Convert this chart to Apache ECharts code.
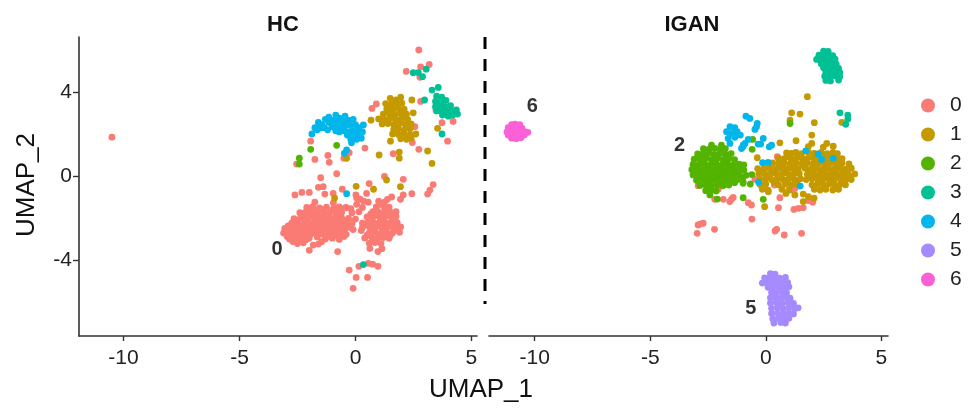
<!DOCTYPE html>
<html><head><meta charset="utf-8">
<style>html,body{margin:0;padding:0;background:#fff}#c{width:975px;height:411px}</style>
<script src="https://cdn.jsdelivr.net/npm/echarts@6/dist/echarts.min.js"></script>
</head><body><div id="c"></div>
<script>
const clusters = ['0','1','2','3','4','5','6'];
const colors = ['#FA7B73','#C49A00','#53B400','#00C094','#00B6EB','#A58AFF','#FB61D7'];
const xTicks = [-10,-5,0,5];
const yTicks = [-4,0,4];

const hc0 = [[-10.5,1.85],[2.73,6.0],[2.81,5.2],[3.18,5.31],[2.19,4.98],[2.78,4.7],[0.9,3.43],[0.71,3.22],[2.81,3.55],[3.73,2.54],[4.21,2.6],[3.97,1.66],[-1.93,1.66],[-1.75,0.79],[-1.19,0.98],[-1.13,0.65],[-0.5,0.85],[-0.27,1.11],[0.41,1.33],[1.63,1.06],[2.45,1.59],[2.73,1.27],[2.56,2.35],[2.09,2.79],[-2.54,0.57],[3.47,3.14],
[-1.5,-0.08],[-0.81,0.11],[1.25,-0.02],[2.06,-0.16],[0.59,-0.36],[3.35,-0.41],[3.21,-0.67],[3.11,-0.86],[2.43,-0.84],[2.06,-0.9],[1.94,-1.11],[1.56,-1],[1.38,-1.11],[0.48,-0.83],[-2.61,-0.9],[-2.31,-0.78],[-1.99,-0.78],[-1.6,-0.54],[-1.39,-0.51],[-1.32,-0.86],[-0.96,-0.83],[-0.57,-0.63],[0.02,-0.9],
[-1.99,-3.54],[-0.77,-3.6],[0.62,-3.45],[0.97,-3.6],[1.14,-3.46],[0.15,-4.3],[0.55,-4.16],[0.74,-4.2],[0.97,-4.3],[-0.27,-4.48],[0.03,-4.83],[0.52,-4.83],[-0.1,-5.35],[-1.6,-3.24],[-1.82,-3.29],[-1.46,-3.13],
[-1.75,-1.25],[-0.95,-1.28],[-2.1,-1.5],[-1.85,-1.46],[-1.55,-1.52],[-1.25,-1.48],[-0.95,-1.55],[-0.7,-1.47],[-0.45,-1.52],
[-2.4,-1.75],[-2.15,-1.72],[-1.9,-1.78],[-1.65,-1.73],[-1.35,-1.77],[-1.1,-1.72],[-0.85,-1.78],[-0.6,-1.74],
[-2.65,-2.03],[-2.35,-1.97],[-2.1,-2.02],[-1.6,-2.0],[-1.35,-2.03],[-1.1,-1.98],[-0.85,-2.03],[-0.6,-1.98],[-0.3,-2.02],
[-2.75,-2.25],[-2.5,-2.22],[-2.2,-2.28],[-1.95,-2.23],[-1.7,-2.26],[-1.45,-2.22],[-1.2,-2.28],[-0.95,-2.24],[-0.7,-2.27],[-0.45,-2.23],[-0.15,-2.26],
[-3.05,-2.5],[-2.8,-2.47],[-2.55,-2.52],[-2.3,-2.48],[-2.05,-2.53],[-1.75,-2.48],[-1.5,-2.52],[-1.25,-2.47],[-1.0,-2.52],[-0.75,-2.48],[-0.45,-2.53],[-0.2,-2.47],
[-3.1,-2.72],[-2.85,-2.77],[-2.6,-2.72],[-2.35,-2.77],[-2.1,-2.73],[-1.45,-2.76],[-1.15,-2.72],[-0.9,-2.77],[-0.6,-2.73],[-0.4,-2.78],
[-2.85,-3.0],[-2.55,-2.97],[-2.3,-3.02],[-2.0,-2.97],[-1.3,-3.0],[-1.0,-2.96],[-0.7,-3.02],[-2.5,-3.22],[-2.25,-3.18],
[1.0,-1.2],[1.25,-1.24],[0.9,-1.47],[1.2,-1.43],[1.45,-1.48],[0.75,-1.7],[1.0,-1.73],[1.25,-1.68],[1.5,-1.72],[1.75,-1.7],
[0.5,-1.95],[0.8,-1.92],[1.05,-1.97],[1.3,-1.93],[1.55,-1.97],[1.75,-1.93],[0.55,-2.2],[0.8,-2.23],[1.05,-2.18],[1.3,-2.22],[1.55,-2.18],[1.8,-2.22],
[0.3,-2.45],[0.6,-2.42],[0.85,-2.47],[1.1,-2.43],[1.35,-2.47],[1.6,-2.43],[1.85,-2.47],[1.95,-2.42],[0.6,-2.7],[0.85,-2.67],[1.1,-2.72],[1.35,-2.68],[1.6,-2.72],[1.9,-2.68],
[0.4,-2.95],[0.7,-2.92],[0.95,-2.97],[1.2,-2.93],[1.45,-2.97],[0.6,-3.2],[0.85,-3.17],[1.1,-3.22],
[-0.4,-1.5],[-0.2,-1.55],[0.05,-1.35],[0.15,-1.7],[0.35,-1.2],[0.0,-2.05],[-0.2,-2.15],[-0.1,-2.55],[0.25,-2.6],[0.3,-2.25],[0.05,-1.05],[0.2,-1.1],[0.55,-1.25],[-0.15,-1.75],[0.3,-1.5],
[-1.9,-1.6],[-1.4,-1.6],[-1.0,-1.65],[-0.75,-1.6],[-2.25,-1.85],[-1.75,-1.9],[-1.2,-1.88],[-0.7,-1.88],[-2.5,-2.1],[-2.2,-2.12],[-1.5,-2.12],[-1.0,-2.12],[-0.5,-2.12],[-2.9,-2.38],[-2.35,-2.38],[-1.85,-2.38],[-1.3,-2.38],[-0.85,-2.38],[-0.3,-2.38],[-2.95,-2.62],[-2.45,-2.62],[-1.95,-2.62],[-1.35,-2.62],[-0.85,-2.62],[-2.7,-2.88],[-2.2,-2.88],[-1.2,-2.88],[-0.75,-2.88],
[1.1,-1.35],[0.9,-1.6],[1.35,-1.6],[0.65,-1.82],[1.15,-1.82],[1.6,-1.82],[0.7,-2.08],[1.15,-2.08],[1.65,-2.08],[0.45,-2.32],[0.95,-2.32],[1.45,-2.32],[1.7,-2.32],[0.75,-2.58],[1.25,-2.58],[1.75,-2.58],[0.5,-2.82],[1.0,-2.82],[1.5,-2.82],[0.8,-3.05],
[-1.6,-1.6],[-2.05,-1.62],[-1.5,-1.9],[-1.95,-1.92],[-2.05,-2.15],[-1.75,-2.12],[-1.25,-2.12],[-0.75,-2.12],[-2.6,-2.35],[-2.05,-2.38],[-1.55,-2.38],[-1.05,-2.38],[-0.55,-2.38],[-2.7,-2.6],[-2.2,-2.62],[-1.65,-2.62],[-1.1,-2.62],[-0.6,-2.62],[-2.95,-2.88],[-2.45,-2.88],[-1.0,-2.85],[-0.5,-2.88],[-1.75,-2.72],[-1.95,-2.8],[-1.65,-2.9],[-2.15,-3.05],[-2.7,-3.12]];
const hc1 = [[2.43,3.62],[2.49,3.01],[0.67,2.66],[1.51,1.66],[1.02,1.0],[1.89,1.14],[1.89,0.85],[3.11,1.19],[3.3,0.6],[3.54,2.27],[-0.38,0.84],[-0.9,-1.05],[0.03,-0.49],[0.78,-0.63],[1.34,-0.19],[1.94,-0.51],
[1.5,3.7],[1.75,3.62],[1.95,3.75],[1.3,3.45],[1.55,3.42],[1.8,3.4],[2.0,3.47],[1.35,3.2],[1.6,3.18],[1.85,3.22],[2.1,3.18],[1.2,2.95],[1.45,2.98],[1.7,2.93],[1.95,2.97],[2.2,2.95],
[1.0,2.72],[1.25,2.7],[1.5,2.74],[1.75,2.68],[2.0,2.72],[2.25,2.7],[1.15,2.48],[1.4,2.5],[1.65,2.45],[1.9,2.5],[2.15,2.46],[2.4,2.48],[1.65,2.22],[1.85,2.25],[2.1,2.2],[2.35,2.25],
[1.6,2.0],[1.85,1.98],[2.1,2.02],[2.35,1.97],[2.6,2.0],[1.95,1.77],[2.2,1.75],[2.4,1.8]];
const hc2 = [[-2.42,0.85],[-2.42,0.57],[-1.93,1.27],[-0.81,1.46]];
const hc3 = [[3.3,4.09],[3.57,4.22],[2.98,3.62],[3.73,2.0],[2.49,4.92],[2.71,4.92],[2.89,4.73],[3.05,5.09],[0.34,-4.22],
[3.5,3.8],[3.72,3.75],[3.45,3.55],[3.7,3.55],[3.9,3.6],[3.45,3.3],[3.65,3.35],[3.88,3.3],[4.1,3.35],[3.5,3.1],[3.7,3.1],[3.95,3.05],[4.15,3.1],[4.35,3.15],[3.75,2.9],[4.0,2.85],[4.2,2.9],[4.4,2.95]];
const hc4 = [[-1.88,2.0],[-1.75,2.3],[-1.6,2.55],[-1.65,2.2],[-1.45,2.45],[-1.3,2.7],[-1.35,2.3],[-1.15,2.55],[-1.15,2.8],[-1.0,2.35],[-0.95,2.65],[-0.85,2.9],[-0.75,2.5],[-0.7,2.75],[-0.6,2.3],[-0.55,2.6],[-0.45,2.85],[-0.4,2.4],[-0.3,2.65],[-0.25,2.1],[-0.2,2.4],[-0.1,2.7],[-0.05,2.15],[0,2.45],[0.1,2.0],[0.15,2.3],[0.3,2.1],[0.25,1.8],[0.05,1.75],[-0.15,1.9],[-0.17,1.58],[0.34,2.43],[-0.38,1.24],[-0.48,1.08],[-0.38,-0.84],
[-0.5,2.15],[-0.35,1.95],[-0.05,1.9],[-1.5,2.3],[-1.2,2.2],[-0.85,2.15],[-0.7,2.1],[-1.05,2.5],[-0.8,2.3],[-0.5,2.3],[0.2,1.95],[-0.2,1.75],[0.1,2.2]];
const ig0 = [[-3.07,0.08],[-2.93,-0.46],[-1.34,-0.22],[-0.98,-0.27],[-0.47,-0.16],[-2.06,-0.63],[-2.21,-1.11],[-1.84,-1.11],[-1.56,-1.22],[-1.41,-1.02],[-1.48,-1.1],[-0.76,-1.27],[-0.62,-1.38],[0.37,-0.43],[0.61,-1.03],[0.55,-1.51],[1.12,-0.67],[1.26,-0.59],[1.91,0.16],[1.22,-1.59],[1.41,-1.54],[1.62,-1.51],[1.84,-1.17],[2.03,-1.25],[-0.6,-2.05],[-2.93,-2.33],[-2.71,-2.25],[-2.83,-2.29],[-2.97,-2.73],[-2.22,-2.54],[0.47,-2.54],[0.4,-2.62],[0.8,-2.81],[1.55,-2.73],[0.5,0.92]];
const ig1 = [[1.8,3.78],[1.12,3.01],[1.48,2.95],[1.05,2.66],[2.1,2.54],[3.29,2.55],[1.99,1.95],[1.31,1.68],[0.61,1.58],[-0.37,0.87],
[2.64,1.55],[2.92,1.42],[1.99,1.55],[1.84,1.4],[2.49,1.38],[0.9,1.1],[1.1,1.08],[1.3,1.12],[1.55,1.07],[1.85,1.12],[2.1,1.08],[2.4,1.12],[2.65,1.07],[2.9,1.12],[3.1,1.07],
[0.55,0.85],[0.8,0.83],[1.05,0.87],[1.3,0.82],[1.55,0.87],[1.8,0.83],[2.05,0.87],[2.3,0.83],[2.55,0.87],[2.8,0.83],[3.05,0.87],[3.3,0.83],
[0.0,0.6],[0.3,0.62],[0.55,0.58],[0.8,0.62],[1.05,0.58],[1.3,0.62],[1.55,0.58],[1.8,0.62],[2.05,0.58],[2.3,0.62],[2.55,0.58],[2.8,0.62],[3.05,0.58],[3.3,0.62],[3.6,0.58],
[-0.35,0.35],[-0.1,0.33],[0.15,0.37],[0.4,0.33],[0.65,0.37],[0.9,0.33],[1.15,0.37],[1.4,0.33],[1.7,0.37],[1.95,0.33],[2.2,0.37],[2.45,0.33],[2.7,0.37],[2.95,0.33],[3.2,0.37],[3.45,0.33],[3.7,0.37],
[-0.3,0.1],[-0.05,0.12],[0.2,0.08],[0.45,0.12],[0.7,0.08],[0.95,0.12],[1.2,0.08],[1.45,0.12],[1.8,0.08],[2.05,0.12],[2.3,0.08],[2.55,0.12],[2.8,0.08],[3.05,0.12],[3.3,0.08],[3.55,0.12],[3.85,0.1],
[-0.25,-0.15],[0,-0.13],[0.25,-0.17],[0.5,-0.13],[0.75,-0.17],[1.0,-0.13],[1.25,-0.17],[1.5,-0.13],[1.75,-0.17],[2.0,-0.13],[2.25,-0.17],[2.5,-0.13],[2.75,-0.17],[3.0,-0.13],[3.25,-0.17],[3.5,-0.13],[3.7,-0.17],
[-0.25,-0.4],[0,-0.38],[0.55,-0.42],[0.85,-0.38],[1.1,-0.42],[1.3,-0.38],[2.0,-0.42],[2.25,-0.38],[2.5,-0.42],[2.75,-0.38],[3.0,-0.42],[3.25,-0.38],[3.45,-0.42],
[-0.15,-0.63],[0.1,-0.67],[0.7,-0.63],[1.0,-0.67],[2.1,-0.63],[2.35,-0.67],[2.6,-0.63],[2.9,-0.67],[3.15,-0.63],
[-0.11,-0.59],[0.11,-0.75],[0.87,-0.83],[1.26,-0.9],[1.62,-0.86],[1.84,-0.98],[2.09,-1.06],[1.62,-1.22],[-0.05,-1.46],
[0.2,0.48],[0.7,0.48],[1.2,0.48],[1.65,0.48],[2.15,0.48],[2.65,0.48],[3.2,0.48],[-0.2,0.22],[0.3,0.22],[0.8,0.22],[1.3,0.22],[1.9,0.22],[2.4,0.22],[2.9,0.22],[3.4,0.22],[0.1,-0.02],[0.6,-0.02],[1.1,-0.02],[2.15,-0.02],[2.65,-0.02],[3.15,-0.02],[3.65,-0.02],[0.35,-0.28],[0.85,-0.28],[1.35,-0.28],[2.35,-0.28],[2.85,-0.28],[3.35,-0.28],[0.7,0.72],[1.2,0.72],[1.7,0.72],[2.2,0.72],[2.7,0.72],[3.2,0.72],[1.0,0.97],[1.45,0.97],[2.25,0.97],[2.75,0.97]];
const ig2 = [[-2.35,1.47],[-1.92,1.47],[-2.7,1.3],[-2.45,1.28],[-2.2,1.32],[-1.95,1.28],[-1.75,1.3],
[-2.95,1.05],[-2.75,1.03],[-2.5,1.07],[-2.25,1.03],[-2.0,1.07],[-1.75,1.03],[-1.5,1.07],
[-3.1,0.8],[-2.85,0.78],[-2.6,0.82],[-2.35,0.78],[-2.1,0.82],[-1.85,0.78],[-1.6,0.82],[-1.35,0.78],
[-3.15,0.55],[-2.9,0.53],[-2.65,0.57],[-2.4,0.53],[-2.15,0.57],[-1.9,0.53],[-1.65,0.57],[-1.4,0.53],[-1.15,0.57],[-0.95,0.53],
[-3.2,0.3],[-2.95,0.28],[-2.7,0.32],[-2.45,0.28],[-2.2,0.32],[-1.95,0.28],[-1.7,0.32],[-1.45,0.28],[-1.2,0.32],[-0.95,0.28],
[-3.15,0.05],[-2.9,0.03],[-2.65,0.07],[-2.4,0.03],[-2.15,0.07],[-1.9,0.03],[-1.65,0.07],[-1.4,0.03],[-1.15,0.07],[-0.85,0.03],[-0.6,0.07],
[-3.0,-0.2],[-2.75,-0.18],[-2.5,-0.22],[-2.25,-0.18],[-2.0,-0.22],[-1.75,-0.18],[-1.5,-0.22],[-1.25,-0.18],[-1.0,-0.22],
[-2.85,-0.45],[-2.6,-0.43],[-2.35,-0.47],[-2.1,-0.43],[-1.85,-0.47],[-1.6,-0.43],[-2.6,-0.7],[-2.35,-0.68],[-2.15,-0.72],[-2.42,-0.9],
[-2.1,-1.1],[-0.98,-1.03],[-0.67,-0.38],[-0.11,-1.11],[-0.57,1.74],[-0.98,1.4],[-0.59,1.27],[1.05,2.5],[-0.98,-0.35],
[-2.6,0.95],[-2.1,0.95],[-1.7,0.68],[-2.75,0.68],[-2.25,0.68],[-3.0,0.42],[-2.55,0.42],[-2.05,0.42],[-1.55,0.42],[-1.05,0.42],[-2.8,0.18],[-2.3,0.18],[-1.8,0.18],[-1.3,0.18],[-2.6,-0.07],[-2.1,-0.07],[-1.55,-0.07],[-1.05,-0.07],[-2.45,-0.32],[-1.85,-0.32],[-1.35,-0.32],[-2.45,-0.58]];
const ig3 = [[2.5,5.95],[2.7,5.93],[2.3,5.75],[2.5,5.73],[2.7,5.77],[2.9,5.73],[2.2,5.55],[2.4,5.53],[2.6,5.57],[2.85,5.53],[3.0,5.57],[2.4,5.35],[2.65,5.33],[2.85,5.37],[3.05,5.33],[2.5,5.15],[2.75,5.13],[2.95,5.17],[3.15,5.13],[2.6,4.95],[2.8,4.93],[3.0,4.97],[3.2,4.93],[2.55,4.75],[2.75,4.73],[3.0,4.77],[3.2,4.73],[2.6,4.55],[2.8,4.53],[3.15,4.57],
[3.21,3.01],[3.55,2.9],[3.55,2.71],[3.46,2.46]];
const ig4 = [[-0.86,2.85],[-0.69,2.74],[-0.37,2.51],[-0.4,2.35],[-0.47,2.22],[-1.55,2.35],[-1.34,2.3],[-1.7,2.11],[-1.48,2.03],[-1.24,2.11],[-1.1,1.95],[-1.63,1.79],[-1.34,1.84],[-1.55,1.55],[-0.76,1.74],[-0.98,1.47],[-1.05,1.31],[-0.11,1.79],[-0.33,1.52],[-0.22,1.52],[0.25,1.47],[0.15,1.39],[-0.9,1.55],[1.73,1.2],[2.27,1.05],[2.42,0.79],[-0.14,0.63],[0.1,0.65],[2.92,0.84],[-0.31,-0.3],[1.49,-0.48]];
const ig5 = [[0.2,-4.65],[0.4,-4.67],[-0.05,-4.85],[0.15,-4.87],[0.35,-4.83],[0.6,-4.87],[0.85,-4.83],[-0.15,-5.1],[0.05,-5.08],[0.3,-5.12],[0.5,-5.08],[0.75,-5.12],[0.95,-5.08],[0.1,-5.3],[0.3,-5.32],[0.55,-5.28],[0.8,-5.32],[1.0,-5.28],[0.25,-5.55],[0.45,-5.57],[0.7,-5.53],[0.9,-5.57],[0.2,-5.8],[0.4,-5.78],[0.65,-5.82],[0.85,-5.78],[1.05,-5.82],[0.2,-6.05],[0.45,-6.03],[0.7,-6.07],[0.95,-6.03],[1.2,-6.07],[0.25,-6.3],[0.5,-6.28],[0.75,-6.32],[1.0,-6.28],[1.25,-6.32],[1.4,-6.28],[0.25,-6.55],[0.5,-6.53],[0.75,-6.57],[1.0,-6.53],[1.2,-6.57],[0.3,-6.8],[0.55,-6.78],[0.8,-6.82],[1.0,-6.78],[0.35,-7.0],[0.65,-6.98],[0.85,-7.0]];
const ig6 = [[-11.0,2.45],[-10.85,2.47],[-10.65,2.45],[-11.15,2.3],[-10.95,2.28],[-10.75,2.32],[-10.55,2.28],[-11.2,2.1],[-11.0,2.12],[-10.8,2.08],[-10.6,2.12],[-10.4,2.1],[-11.15,1.95],[-10.9,1.93],[-10.7,1.97],[-10.45,1.95],[-11,1.8],[-10.8,1.78],[-10.6,1.82],[-10.3,2.08]];

const hcSeries = [hc0,hc1,hc2,hc3,hc4,[],[]];
const igSeries = [ig0,ig1,ig2,ig3,ig4,ig5,ig6];
const hcNotes = [{value:[-3.38,-3.52],name:'0'}];
const igNotes = [{value:[-10.1,3.33],name:'6'},{value:[-3.73,1.43],name:'2'},{value:[-0.65,-6.33],name:'5'}];

const FONT = '"Liberation Sans", Arial, sans-serif';
const axisX = (i, min, max) => ({gridIndex:i,type:'value',min,max,splitLine:{show:false},
  axisLine:{onZero:false,lineStyle:{color:'#333',width:1.6}},
  axisTick:{length:5,lineStyle:{color:'#333',width:1.4},customValues:xTicks},
  axisLabel:{customValues:xTicks,fontFamily:FONT,fontSize:21,color:'#222',margin:12,hideOverlap:false,showMinLabel:true,showMaxLabel:true}});
const series = [];
clusters.forEach((c,i)=>{
  const common = {name:c,type:'scatter',symbol:'circle',symbolSize:6.8,itemStyle:{color:colors[i],opacity:1},silent:true,animation:false};
  series.push(Object.assign({},common,{xAxisIndex:0,yAxisIndex:0,data:hcSeries[i]}));
  series.push(Object.assign({},common,{xAxisIndex:1,yAxisIndex:1,data:igSeries[i]}));
});
const noteSeries = (ix,notes)=>({type:'scatter',name:'notes',xAxisIndex:ix,yAxisIndex:ix,symbolSize:0,animation:false,silent:true,data:notes,
  label:{show:true,position:'inside',formatter:p=>p.name,fontFamily:FONT,fontWeight:'bold',fontSize:20,color:'#000'}});
series.push(noteSeries(0,hcNotes),noteSeries(1,igNotes));

const chart = echarts.init(document.getElementById('c'),null,{renderer:'canvas'});
chart.setOption({
  backgroundColor:'#fff',animation:false,
  title:[
    {text:'HC',left:278,top:9,textAlign:'center',textStyle:{fontFamily:FONT,fontWeight:'bold',fontSize:22,color:'#111'}},
    {text:'IGAN',left:687,top:9,textAlign:'center',textStyle:{fontFamily:FONT,fontWeight:'bold',fontSize:22,color:'#111'}}
  ],
  grid:[{left:79,top:37,width:398,height:299},{left:489,top:37,width:399,height:299}],
  xAxis:[axisX(0,-11.92,5.24),axisX(1,-11.98,5.29)],
  yAxis:[
    {gridIndex:0,type:'value',min:-7.62,max:6.62,splitLine:{show:false},
     axisLine:{onZero:false,lineStyle:{color:'#333',width:1.6}},
     axisTick:{length:6,lineStyle:{color:'#333',width:1.4},customValues:yTicks},
     axisLabel:{customValues:yTicks,fontFamily:FONT,fontSize:21,color:'#222',margin:7}},
    {gridIndex:1,type:'value',min:-7.62,max:6.62,show:false,splitLine:{show:false}}
  ],
  legend:{data:clusters,orient:'vertical',left:921,top:95,padding:0,icon:'circle',itemWidth:14,itemHeight:14,itemGap:8,selectedMode:false,
    textStyle:{fontFamily:FONT,fontSize:21,color:'#222',padding:[0,0,0,10]}},
  graphic:[
    {type:'line',silent:true,shape:{x1:485,y1:37,x2:485,y2:304},style:{stroke:'#000',lineWidth:3,lineDash:[12,10]}},
    {type:'text',silent:true,x:481,y:390,style:{text:'UMAP_1',fontFamily:FONT,fontSize:26,fill:'#111',textAlign:'center',textVerticalAlign:'middle'}},
    {type:'text',silent:true,x:27,y:185,rotation:Math.PI/2,style:{text:'UMAP_2',fontFamily:FONT,fontSize:26,fill:'#111',textAlign:'center',textVerticalAlign:'middle'}}
  ],
  series
});
</script></body></html>
